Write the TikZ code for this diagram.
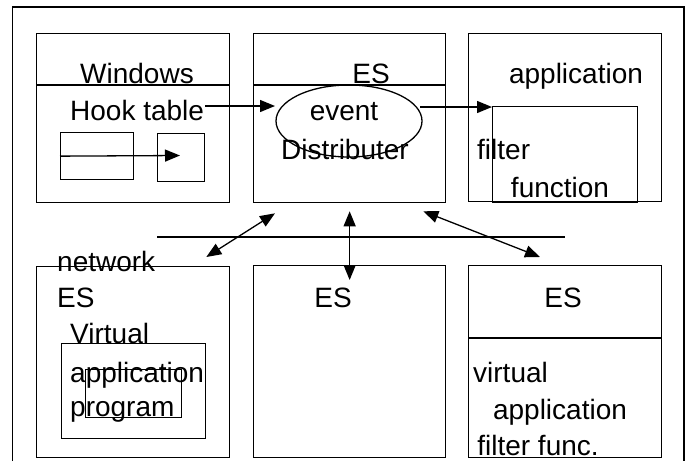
\documentclass[tikz,border=0pt]{standalone}
\usepackage{fontspec}
\setmainfont{Liberation Sans}
\usetikzlibrary{arrows.meta,shapes.geometric}

\begin{document}
\begin{tikzpicture}[
  x=1pt,y=-1pt,
  box/.style={draw,line width=1.3pt,inner sep=0pt,anchor=north west},
  t/.style={font=\fontsize{28}{31}\selectfont,inner sep=0pt},
  edge/.style={line width=1.3pt},
  arr/.style={edge,-{Triangle[length=15pt,width=12pt]}},
  darr/.style={edge,{Triangle[length=15pt,width=12pt]}-{Triangle[length=15pt,width=12pt]}}
]
  \useasboundingbox (0,0) rectangle (695,461);
  \draw[edge] (12.5,461) -- (12.5,7) -- (684,7) -- (684,461);

  % upper row
  \node[box,minimum width=193pt,minimum height=169pt] (win) at (36,33) {};
  \node[box,minimum width=192pt,minimum height=169pt] (es) at (253,33) {};
  \node[box,minimum width=193pt,minimum height=168pt] (app) at (468,33) {};
  \node[box,minimum width=145pt,minimum height=96pt] (filt) at (492,106) {};
  \node[box,minimum width=73pt,minimum height=47pt] (tab1) at (60,132) {};
  \node[box,minimum width=47pt,minimum height=48pt] (tab2) at (157,133) {};
  \node[draw,ellipse,line width=1.3pt,inner sep=0pt,
        minimum width=146pt,minimum height=72pt] (evd) at (349,121) {};
  \draw[edge] ([yshift=-52pt]win.north west) -- ([yshift=-52pt]win.north east);
  \draw[edge] ([yshift=-52pt]es.north west) -- ([yshift=-52pt]es.north east);

  % lower row
  \node[box,minimum width=193pt,minimum height=191pt] (net) at (36,266) {};
  \node[box,minimum width=144pt,minimum height=95pt] (vap) at (61,343) {};
  \node[box,minimum width=96pt,minimum height=48pt] (vin) at (85,369) {};
  \node[box,minimum width=192pt,minimum height=192pt] (esb) at (253,265) {};
  \node[box,minimum width=193pt,minimum height=192pt] (vaf) at (468,265) {};
  \draw[edge] ([yshift=-73pt]vaf.north west) -- ([yshift=-73pt]vaf.north east);

  % texts
  \node[t,anchor=base] (wintxt) at (137,83) {Windows};
  \node[t,anchor=base west] (hook) at (70,120) {Hook table};
  \node[t,anchor=base] (estxt) at (371,83) {ES};
  \node[t,anchor=base] (evtxt) at (344,120) {event};
  \node[t,anchor=base] (distxt) at (345,159) {Distributer};
  \node[t,anchor=base] (apptxt) at (576,83) {application};
  \node[t,anchor=base west] (filtxt) at (477,159) {filter};
  \node[t,anchor=base] (funtxt) at (560,197) {function};
  \node[t,anchor=base west] (nettxt) at (57,271) {network};
  \node[t,anchor=base west] (esl) at (57,307) {ES};
  \node[t,anchor=base west] (virt) at (70,343) {Virtual};
  \node[t,anchor=base west] (vapp) at (70,382) {application};
  \node[t,anchor=base west] (prog) at (70,416) {program};
  \node[t,anchor=base] (esm) at (333,307) {ES};
  \node[t,anchor=base] (esr) at (563,307) {ES};
  \node[t,anchor=base west] (vtxt) at (473,382) {virtual};
  \node[t,anchor=base] (vatxt) at (560,419) {application};
  \node[t,anchor=base] (fftxt) at (538,455) {filter func.};

  % connectors
  \coordinate (tbend) at (180,155.5);
  \coordinate (hk0) at (205,106);
  \coordinate (hk1) at (275,106);
  \coordinate (ev0) at (420,107);
  \coordinate (busl) at (157,237);
  \coordinate (busr) at (565,237);

  \draw[arr] (tab1.west) -- (tbend);
  \draw[arr] (hk0) -- (hk1);
  \draw[arr] (ev0) -- ([yshift=-1pt]filt.north west);
  \draw[edge] (busl) -- (busr);
  \draw[darr] ([shift={(22pt,-10pt)}]es.south west) -- ([shift={(-24pt,9pt)}]net.north east);
  \draw[darr] ([yshift=-8pt]es.south) -- ([yshift=-15pt]esb.north);
  \draw[darr] ([shift={(-23pt,-8pt)}]es.south east) -- ([shift={(72pt,8pt)}]vaf.north west);
\end{tikzpicture}
\end{document}
